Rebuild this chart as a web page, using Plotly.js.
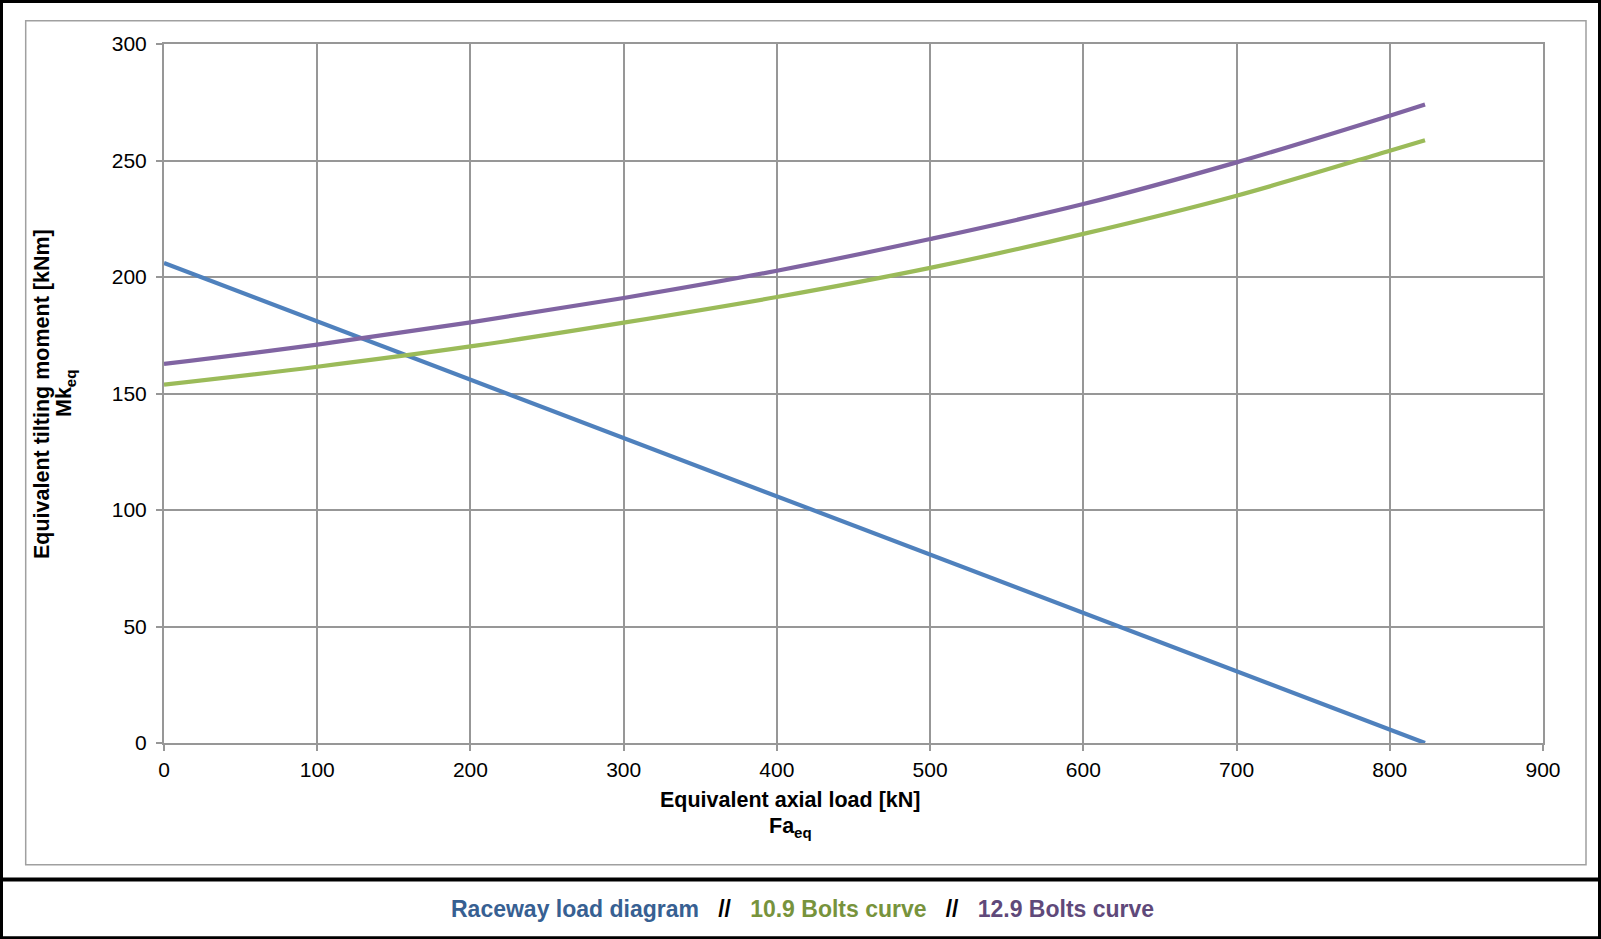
<!DOCTYPE html>
<html>
<head>
<meta charset="utf-8">
<script src="https://cdn.plot.ly/plotly-3.0.1.min.js"></script>
<style>
html,body{margin:0;padding:0;background:#fff;}
#chart{width:1601px;height:939px;}
#chart .gridlayer path, #chart .xlines-above, #chart .ylines-above,
#chart .xtick, #chart .ytick, #chart path.xtick, #chart path.ytick { shape-rendering: crispEdges; }
</style>
</head>
<body>
<div id="chart"></div>
<script>
// ---- data ----
const raceX = [0, 823];
const raceY = [206, 0];

const boltX = [0, 100, 200, 300, 400, 500, 600, 700, 800, 823];
const bolt109Y = [153.8, 161.5, 170.2, 180.4, 191.4, 203.9, 218.5, 234.9, 254.2, 258.7];
const bolt129Y = [162.7, 171.0, 180.5, 191.0, 202.7, 216.3, 231.3, 249.2, 269.2, 274.0];

const xTicks = [0, 100, 200, 300, 400, 500, 600, 700, 800, 900];
const yTicks = [0, 50, 100, 150, 200, 250, 300];

const seriesNames = ['Raceway load diagram', '10.9 Bolts curve', '12.9 Bolts curve'];

// ---- layout geometry ----
const W = 1601, H = 939;
const M = {l: 164, r: 58, t: 44, b: 196};
const PW = W - M.l - M.r, PH = H - M.t - M.b;
const px = x => (x - M.l) / PW;
const py = y => (H - M.b - y) / PH;

const FONT = 'Liberation Sans, Arial, sans-serif';
const GRID = '#979797';

const traces = [
  {x: raceX, y: raceY, mode: 'lines', name: seriesNames[0],
   line: {color: '#4f81bd', width: 4.2}},
  {x: boltX, y: bolt109Y, mode: 'lines', name: seriesNames[1],
   line: {color: '#9bbb59', width: 4.2, shape: 'spline', smoothing: 1}},
  {x: boltX, y: bolt129Y, mode: 'lines', name: seriesNames[2],
   line: {color: '#8064a2', width: 4.2, shape: 'spline', smoothing: 1}}
];

const axisCommon = {
  showgrid: true, gridcolor: GRID, gridwidth: 2,
  showline: true, linecolor: GRID, linewidth: 2, mirror: true,
  ticks: 'outside', ticklen: 6, tickcolor: GRID, tickwidth: 2,
  zeroline: false, tickfont: {family: FONT, size: 21, color: '#000'},
  fixedrange: true
};

const layout = {
  width: W, height: H,
  margin: M,
  paper_bgcolor: '#fff', plot_bgcolor: '#fff',
  showlegend: false,
  font: {family: FONT, color: '#000'},
  xaxis: Object.assign({}, axisCommon, {
    range: [0, 900], tickmode: 'array', tickvals: xTicks,
    ticktext: xTicks.map(String), ticklabelstandoff: 1
  }),
  yaxis: Object.assign({}, axisCommon, {
    range: [0, 300], tickmode: 'array', tickvals: yTicks,
    ticktext: yTicks.map(String), ticklabelstandoff: 5
  }),
  annotations: [
    {xref: 'paper', yref: 'paper', x: px(42), y: py(394), textangle: -90,
     xanchor: 'center', yanchor: 'middle', showarrow: false,
     text: '<b>Equivalent tilting moment [kNm]</b>',
     font: {family: FONT, size: 21.5, color: '#000'}},
    {xref: 'paper', yref: 'paper', x: px(65), y: py(394), textangle: -90,
     xanchor: 'center', yanchor: 'middle', showarrow: false,
     text: '<b>Mk<sub>eq</sub></b>',
     font: {family: FONT, size: 21.5, color: '#000'}},
    {xref: 'paper', yref: 'paper', x: px(790), y: py(800),
     xanchor: 'center', yanchor: 'middle', showarrow: false,
     text: '<b>Equivalent axial load [kN]</b>',
     font: {family: FONT, size: 21.5, color: '#000'}},
    {xref: 'paper', yref: 'paper', x: px(790), y: py(827),
     xanchor: 'center', yanchor: 'middle', showarrow: false,
     text: '<b>Fa<sub>eq</sub></b>',
     font: {family: FONT, size: 21.5, color: '#000'}},
    {xref: 'paper', yref: 'paper', x: px(802), y: py(909),
     xanchor: 'center', yanchor: 'middle', showarrow: false,
     text: '<b><span style="color:#376092">' + seriesNames[0] + '</span>&nbsp;&nbsp;&nbsp;//&nbsp;&nbsp;&nbsp;<span style="color:#77933c">' + seriesNames[1] + '</span>&nbsp;&nbsp;&nbsp;//&nbsp;&nbsp;&nbsp;<span style="color:#5f497a">' + seriesNames[2] + '</span></b>',
     font: {family: FONT, size: 23, color: '#000'}}
  ],
  shapes: [
    {type: 'rect', xref: 'paper', yref: 'paper', layer: 'below',
     x0: px(25.7), x1: px(1586), y0: py(864.8), y1: py(20.7),
     line: {color: '#a0a0a0', width: 1.5}},
    {type: 'line', xref: 'paper', yref: 'paper',
     x0: px(0), x1: px(W), y0: py(879.5), y1: py(879.5),
     line: {color: '#000', width: 4}},
    {type: 'rect', xref: 'paper', yref: 'paper',
     x0: px(1.5), x1: px(W - 1.5), y0: py(H - 1.2), y1: py(1.5),
     line: {color: '#000', width: 3}}
  ]
};

Plotly.newPlot('chart', traces, layout, {displayModeBar: false, staticPlot: true});
</script>
</body>
</html>
